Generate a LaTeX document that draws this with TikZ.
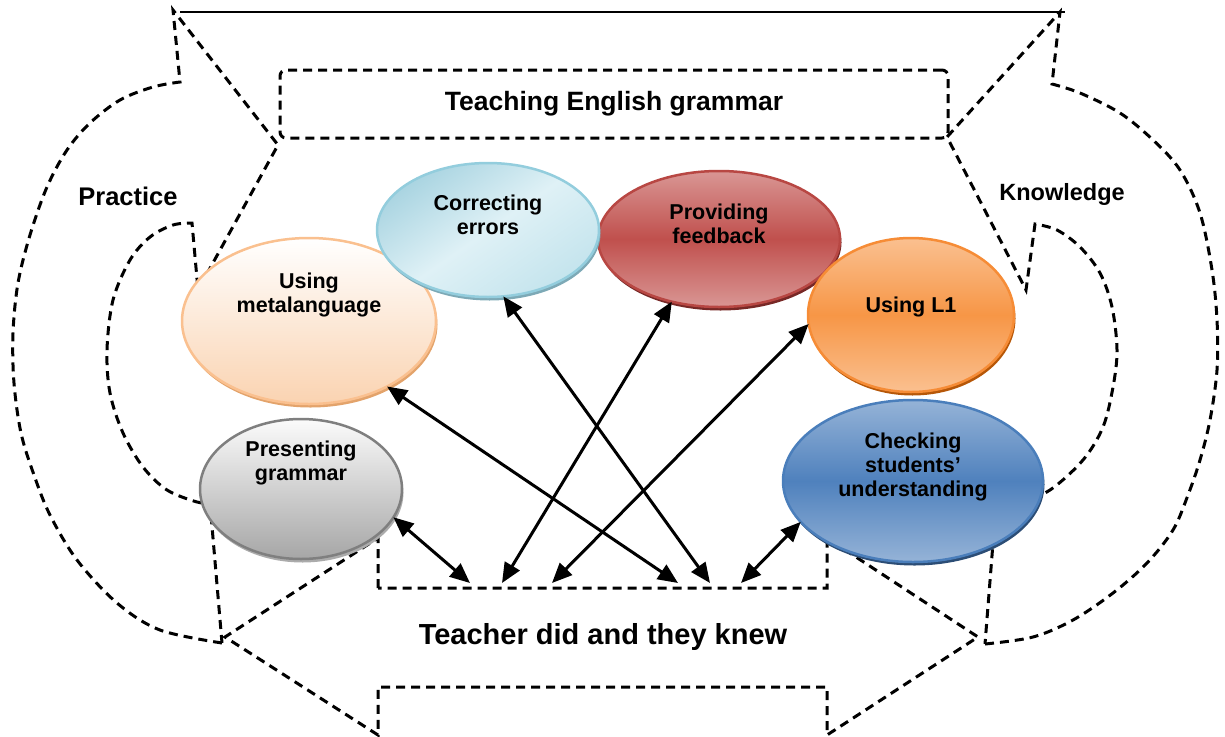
\documentclass[tikz,border=0pt]{standalone}
\usepackage{fontspec}
\setmainfont{Liberation Sans}
\usetikzlibrary{shapes.geometric,arrows.meta,shadows}
\definecolor{metaB}{HTML}{FAC08F}\definecolor{metaS}{HTML}{E3A36B}\definecolor{metaF}{HTML}{FAD3B1}
\definecolor{corrB}{HTML}{93CDDD}\definecolor{corrS}{HTML}{7DA9B6}\definecolor{corrA}{HTML}{A9D4E1}\definecolor{corrC}{HTML}{DFF1F6}\definecolor{corrD}{HTML}{C4E4ED}
\definecolor{provB}{HTML}{B84743}\definecolor{provS}{HTML}{772826}\definecolor{provL}{HTML}{D99694}\definecolor{provM}{HTML}{C0504D}
\definecolor{lonB}{HTML}{F68C36}\definecolor{lonS}{HTML}{B65708}\definecolor{lonL}{HTML}{FAC090}\definecolor{lonM}{HTML}{F79646}
\definecolor{presB}{HTML}{7F7F7F}\definecolor{presS}{HTML}{ABABAB}\definecolor{presL}{HTML}{FBFBFB}\definecolor{presD}{HTML}{A6A6A6}
\definecolor{chkB}{HTML}{4A7EBB}\definecolor{chkS}{HTML}{2C4D75}\definecolor{chkL}{HTML}{95B3D7}\definecolor{chkM}{HTML}{4F81BD}
\tikzset{
  dsh/.style={line width=3pt, dash pattern=on 9pt off 6pt},
  oval/.style={ellipse, inner sep=0pt, outer sep=0pt, line width=2.5pt},
  otext/.style={align=center, font=\fontsize{21.5}{24}\selectfont\bfseries, inner sep=0pt},
  arr/.style={{Triangle[length=20pt,width=17pt]}-{Triangle[length=20pt,width=17pt]}, line width=3pt},
  shd/.style={drop shadow={shadow xshift=1.5pt, shadow yshift=-3.5pt, fill=#1, opacity=1}}
}
\begin{document}
\begin{tikzpicture}[x=1pt,y=-1pt]
\useasboundingbox (0,0) rectangle (1225,736);
% left curved arrow (Practice)
\draw[dsh] plot[smooth,tension=0.55] coordinates {(222,643) (160,630) (117,603) (77,560) (50,515) (34,475) (21,433) (14,383) (13,333) (18,283) (30,235) (47,187) (67,150) (90,123) (120,100) (153,87) (180,82)}
  -- (173,10) -- (278,145) -- (198,290) -- (192,223)
  -- plot[smooth,tension=0.55] coordinates {(192,223) (173,225) (150,237) (130,260) (113,300) (107,350) (110,393) (123,433) (143,467) (167,490) (197,502) (210,503)} -- cycle;
% right curved arrow (Knowledge)
\draw[dsh] plot[smooth,tension=0.55] coordinates {(985,644) (1033,637) (1073,620) (1113,593) (1147,563) (1173,530) (1188,495) (1200,460) (1210,420) (1217,370) (1217,320) (1212,270) (1200,213) (1180,170) (1153,140) (1120,113) (1080,93) (1052,84)}
  -- (1060,12) -- (947,137) -- (1026,290) -- (1035,224)
  -- plot[smooth,tension=0.55] coordinates {(1035,224) (1057,230) (1080,247) (1100,273) (1112,307) (1117,350) (1113,387) (1103,427) (1083,460) (1050,490) (1020,502) (996,505)} -- cycle;
% bottom left-right arrow
\draw[dsh] (378,588) -- (378,538) -- (225,637) -- (378,735) -- (378,687) -- (827,687) -- (827,735) -- (978,637) -- (827,538) -- (827,588) -- cycle;
% top line
\draw[line width=2.5pt] (180,12) -- (1065,12);
% title box
\node[dsh, draw, rounded corners=6pt, minimum width=668pt, minimum height=68pt, inner sep=0pt, font=\fontsize{26.5}{30}\selectfont\bfseries] (teg) at (614,104) {Teaching English grammar};
\node[font=\fontsize{25.5}{30}\selectfont\bfseries] (prac) at (128,196) {Practice};
\node[font=\fontsize{23.5}{28}\selectfont\bfseries] (know) at (1062,194) {Knowledge};
\node[font=\fontsize{29}{34}\selectfont\bfseries] (tdk) at (603,637) {Teacher did and they knew};
% ellipses
\node[oval, shd=metaS, draw=metaB, top color=white, bottom color=metaF, minimum width=254pt, minimum height=166pt] (meta) at (309,321) {};
\node[oval, shd=provS, draw=provB, top color=provL, bottom color=provL, middle color=provM, minimum width=242pt, minimum height=136pt] (prov) at (719,239) {};
\node[oval, shd=corrS, draw=corrB, top color=corrA, bottom color=corrD, middle color=corrC, shading angle=35, minimum width=222pt, minimum height=134pt] (corr) at (488,230) {};
\node[oval, shd=lonS, draw=lonB, top color=lonL, bottom color=lonL, middle color=lonM, minimum width=206pt, minimum height=154pt] (lone) at (911,315) {};
\node[oval, shd=presS, draw=presB, top color=presL, bottom color=presD, minimum width=202pt, minimum height=140pt] (pres) at (301,489) {};
\node[oval, shd=chkS, draw=chkB, top color=chkL, bottom color=chkL, middle color=chkM, minimum width=260pt, minimum height=162pt] (chk) at (913,481) {};
% ellipse texts
\node[otext] (tmeta) at (309,295) {Using\\metalanguage};
\node[otext] (tcorr) at (488,215) {Correcting\\errors};
\node[otext] (tprov) at (719,224) {Providing\\feedback};
\node[otext] (tlone) at (911,307) {Using L1};
\node[otext] (tpres) at (301,463) {Presenting\\grammar};
\node[otext] (tchk) at (913,467) {Checking\\students’\\understanding};
% arrow ends on the bottom box
\coordinate (b1) at (470,583);
\coordinate (b2) at (502,583);
\coordinate (b3) at (552,583);
\coordinate (b4) at (678,583);
\coordinate (b5) at (710,583);
\coordinate (b6) at (741,583);
\draw[arr] (pres.-17.3) -- (b1);
\draw[arr] (meta.-40.2) -- (b4);
\draw[arr] (corr.-77.1) -- (b5);
\draw[arr] (prov.-127.9) -- (b2);
\draw[arr] (lone.-175.6) -- (b3);
\draw[arr] (chk.-160.8) -- (b6);
\end{tikzpicture}
\end{document}
